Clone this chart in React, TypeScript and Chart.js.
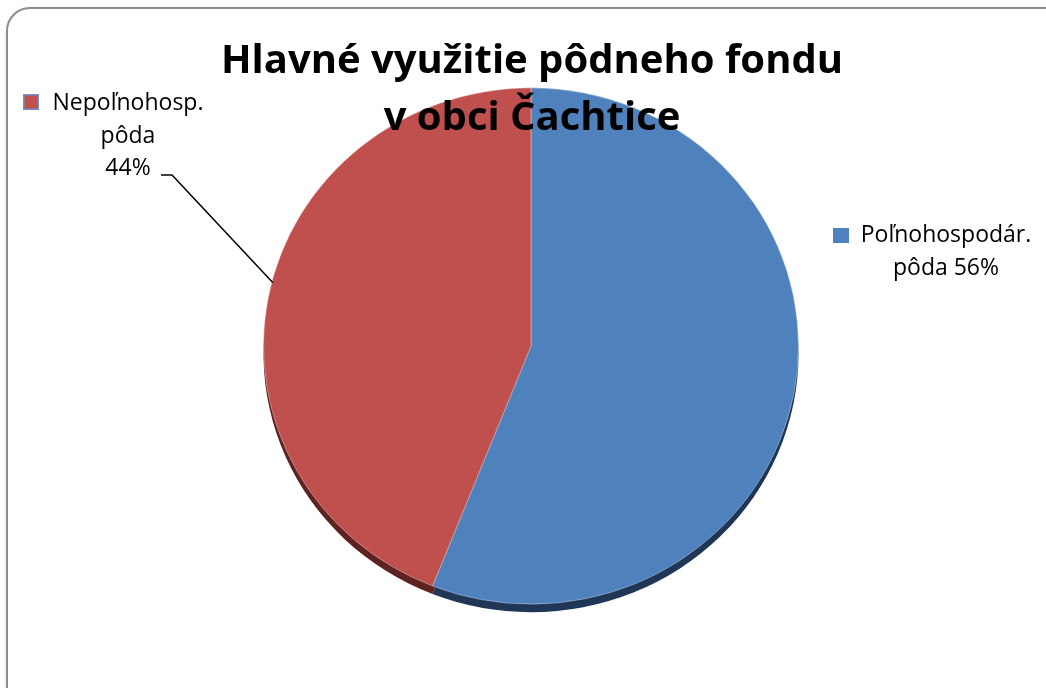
import React, { useEffect, useRef } from "react";
import { Chart, registerables } from "chart.js";
Chart.register(...registerables);

const titleLines = ["Hlavné využitie pôdneho fondu", "v obci Čachtice"];
const categories = ["Poľnohospodár. pôda", "Nepoľnohosp. pôda"];
const values = [56, 44];
const faceColors = ["#4f81bd", "#c0504d"];
const rimColors = ["#1f3656", "#5e2221"];
const labelLines = [
  ["Poľnohospodár.", "pôda 56%"],
  ["Nepoľnohosp.", "pôda", "44%"],
];

const Y_SCALE = 0.965;
const RIM = 8;
const FONT = "'Open Sans', sans-serif";

const tiltPlugin = {
  id: "tilt",
  beforeDatasetsDraw(chart: any) {
    const ctx = chart.ctx;
    const meta = chart.getDatasetMeta(0);
    meta.data.forEach((arc: any, i: number) => {
      const p = arc.getProps(["x", "y", "startAngle", "endAngle", "outerRadius"], true);
      ctx.save();
      ctx.translate(p.x, p.y + RIM);
      ctx.scale(1, Y_SCALE);
      ctx.beginPath();
      ctx.moveTo(0, 0);
      ctx.arc(0, 0, p.outerRadius, p.startAngle, p.endAngle);
      ctx.closePath();
      ctx.fillStyle = rimColors[i];
      ctx.fill();
      ctx.restore();
    });
    const a0 = meta.data[0];
    ctx.save();
    ctx.translate(a0.x, a0.y);
    ctx.scale(1, Y_SCALE);
    ctx.translate(-a0.x, -a0.y);
  },
  afterDatasetsDraw(chart: any) {
    chart.ctx.restore();
  },
  afterDraw(chart: any) {
    const ctx = chart.ctx;
    const meta = chart.getDatasetMeta(0);
    // title
    ctx.save();
    ctx.fillStyle = "#000";
    ctx.textAlign = "center";
    ctx.textBaseline = "alphabetic";
    ctx.font = `bold 40px ${FONT}`;
    ctx.fillText(titleLines[0], 532, 73);
    ctx.fillText(titleLines[1], 532, 130);
    // labels
    ctx.font = `23px ${FONT}`;
    // right label (blue)
    const rx = 946;
    ctx.fillStyle = faceColors[0];
    ctx.fillRect(833, 228, 16, 15);
    ctx.fillStyle = "#000";
    ctx.fillText(labelLines[0][0], rx, 242);
    ctx.fillText(labelLines[0][1], rx, 275);
    // left label (red)
    const lx = 128;
    ctx.fillStyle = faceColors[1];
    ctx.fillRect(23, 94, 16, 16);
    ctx.strokeStyle = "#6f95c6";
    ctx.lineWidth = 1.5;
    ctx.strokeRect(23.75, 94.75, 14.5, 14.5);
    ctx.fillStyle = "#000";
    ctx.fillText(labelLines[1][0], lx, 110);
    ctx.fillText(labelLines[1][1], lx, 143);
    ctx.fillText(labelLines[1][2], lx, 175);
    // leader line to red slice
    const arc = meta.data[1];
    const p = arc.getProps(["x", "y", "startAngle", "endAngle", "outerRadius"], true);
    const mid = (p.startAngle + p.endAngle) / 2 + 0.06;
    const ex = p.x + Math.cos(mid) * p.outerRadius;
    const ey = p.y + Math.sin(mid) * p.outerRadius * Y_SCALE;
    ctx.beginPath();
    ctx.moveTo(161, 175);
    ctx.lineTo(172, 175);
    ctx.lineTo(ex + 1, ey);
    ctx.strokeStyle = "#000";
    ctx.lineWidth = 1.5;
    ctx.stroke();
    ctx.restore();
  },
};

export default function App() {
  const ref = useRef<HTMLCanvasElement>(null);
  useEffect(() => {
    if (!ref.current) return;
    const chart = new Chart(ref.current, {
      type: "pie",
      data: {
        labels: categories,
        datasets: [
          {
            data: values,
            backgroundColor: faceColors,
            borderColor: "rgba(255,255,255,0.35)",
            borderWidth: 1,
          },
        ],
      },
      options: {
        responsive: false,
        animation: false,
        rotation: 0,
        layout: { padding: { left: 263, right: 247, top: 78, bottom: 74 } },
        plugins: {
          legend: { display: false },
          title: { display: false },
          tooltip: { enabled: false },
        },
      },
      plugins: [tiltPlugin],
    });
    return () => chart.destroy();
  }, []);
  return (
    <div style={{ position: "absolute", left: 0, top: 0, width: 1046, height: 688, overflow: "hidden", background: "#fff" }}>
      <div
        style={{
          position: "absolute",
          left: 6,
          top: 7,
          width: 1060,
          height: 700,
          border: "2px solid #8c8c8c",
          borderRadius: 24,
          boxShadow: "1px 1px 3px rgba(0,0,0,0.25)",
        }}
      />
      <canvas ref={ref} width={1046} height={688} style={{ position: "absolute", left: 0, top: 0 }} />
    </div>
  );
}
